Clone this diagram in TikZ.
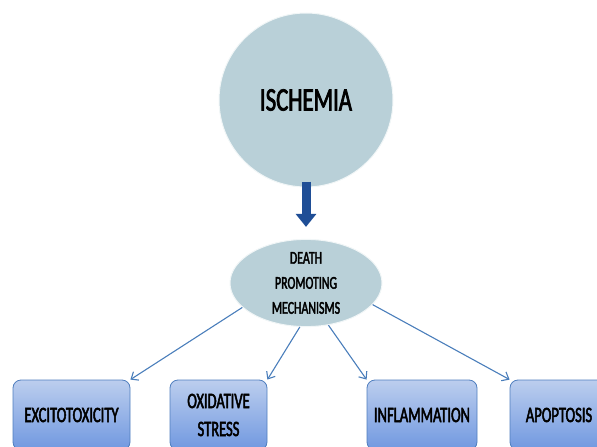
\documentclass[tikz,border=0pt]{standalone}
\usepackage{fontspec}
\usetikzlibrary{shapes.geometric,arrows.meta}
\newfontfamily\condfont[FakeStretch=0.69,FakeBold=2.2]{Carlito}
\newfontfamily\narrowfont[FakeStretch=0.66,FakeBold=2.2]{Carlito}
\definecolor{bluegrey}{RGB}{185,208,216}
\definecolor{boxtop}{RGB}{188,206,238}
\definecolor{boxbottom}{RGB}{112,152,224}
\definecolor{boxline}{RGB}{79,126,190}
\definecolor{darkarrow}{RGB}{31,78,150}
\definecolor{thinarrow}{RGB}{74,126,187}
\tikzset{
  bubble/.style={fill=bluegrey, draw=white!80!bluegrey, line width=1pt, inner sep=0pt},
  effectbox/.style={rectangle, rounded corners=8pt, draw=boxline, line width=0.8pt,
    top color=boxtop, bottom color=boxbottom, minimum height=70pt, inner sep=0pt,
    align=center, font=\narrowfont\fontsize{22}{28}\selectfont},
  link/.style={thinarrow, line width=1.1pt, -{Straight Barb[length=6pt,width=10pt]}}
}
\begin{document}
\begin{tikzpicture}[x=1pt, y=-1pt]
    \path[use as bounding box, clip] (0,0) rectangle (597,447);
    %% top
    \node[bubble, circle, minimum size=174pt, font=\condfont\fontsize{33}{36}\selectfont] (isch) at (306,100) {ISCHEMIA};
    \node[bubble, ellipse, minimum width=152pt, minimum height=85pt, align=center,
          font=\narrowfont\fontsize{18}{25}\selectfont] (dpm) at (306,283) {DEATH\\PROMOTING\\MECHANISMS};
    \draw[darkarrow, line width=9pt, shorten <=-6pt, shorten >=12pt,
          -{Triangle[length=13pt,width=20pt]}] (isch.south) -- (dpm.north);
    %% effects
    \node[effectbox, minimum width=117pt] (exc) at (71.5,415) {EXCITOTOXICITY};
    \node[effectbox, minimum width=97pt] (oxi) at (218.5,415) {OXIDATIVE\\STRESS};
    \node[effectbox, minimum width=110pt] (infl) at (422,415) {INFLAMMATION};
    \node[effectbox, minimum width=98pt] (apo) at (559,415) {APOPTOSIS};
    \draw[link] (dpm.201) -- (exc.north east);
    \draw[link] (dpm.262) -- (oxi.north east);
    \draw[link] (dpm.298) -- (infl.north west);
    \draw[link] (dpm.342) -- (apo.north west);
\end{tikzpicture}
\end{document}
